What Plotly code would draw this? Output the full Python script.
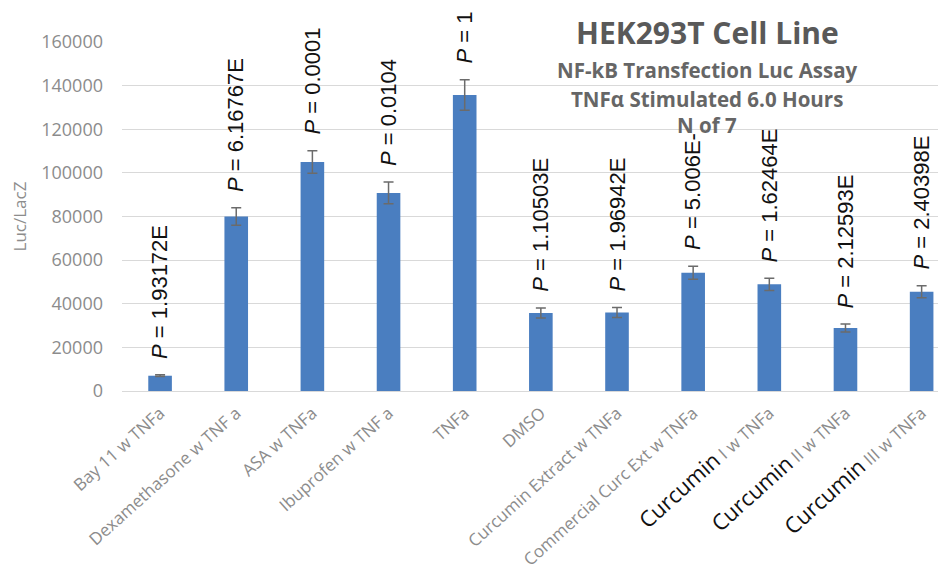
import plotly.graph_objects as go

categories = ["Bay 11 w TNFa", "Dexamethasone w TNF a", "ASA w TNFa", "Ibuprofen w TNF a",
              "TNFa", "DMSO", "Curcumin Extract w TNFa", "Commercial Curc Ext w TNFa",
              "Curcumin I w TNFa", "Curcumin II w TNFa", "Curcumin III w TNFa"]
tick_labels = ["Bay 11 w TNFa", "Dexamethasone w TNF a", "ASA w TNFa", "Ibuprofen w TNF a",
               "TNFa", "DMSO", "Curcumin Extract w TNFa", "Commercial Curc Ext w TNFa",
               '<span style="color:#111111;font-size:22px">Curcumin</span> I w TNFa',
               '<span style="color:#111111;font-size:22px">Curcumin</span> II w TNFa',
               '<span style="color:#111111;font-size:22px">Curcumin</span> III w TNFa']
values = [7000, 80000, 105000, 90800, 135700, 35800, 36000, 54200, 48900, 28900, 45500]
errors = [400, 4000, 5200, 5000, 7000, 2300, 2300, 3000, 2800, 1800, 2700]
p_texts = ["1.93172E", "6.16767E", "0.0001", "0.0104", "1", "1.10503E", "1.96942E",
           "5.006E-", "1.62464E", "2.12593E", "2.40398E"]

fig = go.Figure()
fig.add_trace(go.Bar(
    x=list(range(len(categories))), y=values,
    marker=dict(color="#4a7ec0", line=dict(width=0)),
    width=0.31,
    error_y=dict(type="data", array=errors, visible=True, color="#6b6b6b", thickness=1.5, width=5),
    hoverinfo="x+y",
))

for i, (v, e, p) in enumerate(zip(values, errors, p_texts)):
    fig.add_annotation(x=i, y=v + e, xref="x", yref="y", text="<i>P</i> = " + p,
                       textangle=-90, showarrow=False, xanchor="center", yanchor="bottom",
                       yshift=14, font=dict(family="Liberation Sans, Arial", size=22, color="#111111"))

title_lines = [("HEK293T Cell Line", 30, 1.026, "#595959"),
               ("NF-kB Transfection Luc Assay", 20.5, 0.92, "#666666"),
               ("TNFα Stimulated 6.0 Hours", 20.5, 0.837, "#666666"),
               ("N of 7", 20.5, 0.762, "#666666")]
for txt, sz, yy, col in title_lines:
    fig.add_annotation(x=0.71, y=yy, xref="paper", yref="paper", text="<b>" + txt + "</b>",
                       showarrow=False, xanchor="center", yanchor="middle",
                       font=dict(family="Open Sans", size=sz, color=col))

fig.update_layout(
    width=938, height=568,
    margin=dict(l=114, r=0, t=34, b=185, autoexpand=False),
    plot_bgcolor="white", paper_bgcolor="white",
    showlegend=False,
    xaxis=dict(range=[-0.5, 10.32], tickmode="array", tickvals=list(range(len(categories))),
               ticktext=tick_labels, tickangle=-42, showgrid=False, zeroline=False,
               showline=False, ticks="", automargin=False, ticklabelstandoff=8,
               tickfont=dict(family="Open Sans", size=17, color="#8c8c8c")),
    yaxis=dict(range=[0, 160000], dtick=20000, showgrid=True, gridcolor="#d9d9d9", gridwidth=1,
               zeroline=True, zerolinecolor="#d9d9d9", zerolinewidth=1, showline=False,
               ticks="", ticklabelstandoff=18, tickformat="d", automargin=False,
               tickfont=dict(family="Open Sans", size=18, color="#8c8c8c"),
               title=dict(text="Luc/LacZ", standoff=12,
                          font=dict(family="Open Sans", size=17, color="#8c8c8c"))),
)

fig.write_html("out.html")
